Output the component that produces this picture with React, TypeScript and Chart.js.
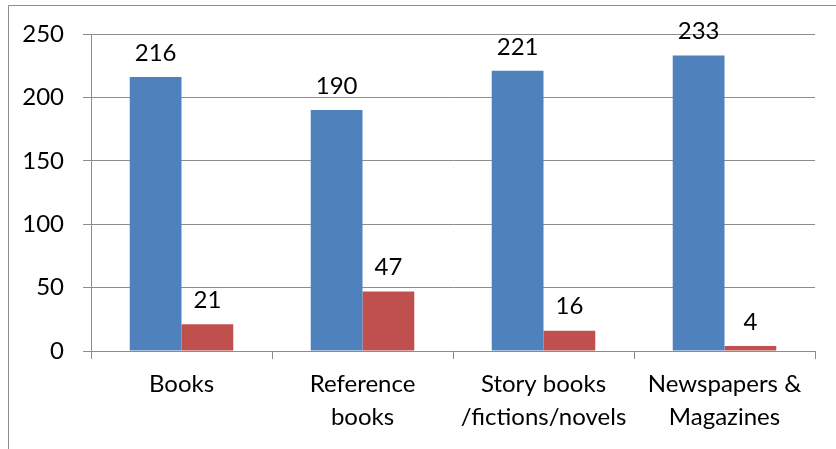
import React, { useEffect, useRef } from "react";
import { Chart, registerables } from "chart.js";

Chart.register(...registerables);

const categories: string[][] = [
  ["Books"],
  ["Reference", "books"],
  ["Story books", "/fictions/novels"],
  ["Newspapers &", "Magazines"],
];
const seriesA: number[] = [216, 190, 221, 233];
const seriesB: number[] = [21, 47, 16, 4];
const yTicks = { min: 0, max: 250, step: 50 };

const FONT = "Lato, 'Open Sans', sans-serif";
const FONT_SIZE = 24;

const borderPlugin = {
  id: "outerBorder",
  beforeDraw(chart: any) {
    const ctx = chart.ctx;
    ctx.save();
    ctx.strokeStyle = "#8c8c8c";
    ctx.lineWidth = 1;
    ctx.beginPath();
    ctx.moveTo(8.5, chart.height);
    ctx.lineTo(8.5, 5.5);
    ctx.lineTo(chart.width, 5.5);
    ctx.stroke();
    ctx.restore();
  },
};

const labelPlugin = {
  id: "valueLabels",
  afterDatasetsDraw(chart: any) {
    const ctx = chart.ctx;
    ctx.save();
    ctx.fillStyle = "#000";
    ctx.font = `${FONT_SIZE}px ${FONT}`;
    ctx.textAlign = "center";
    ctx.textBaseline = "middle";
    chart.data.datasets.forEach((ds: any, i: number) => {
      const meta = chart.getDatasetMeta(i);
      meta.data.forEach((bar: any, j: number) => {
        ctx.fillText(String(ds.data[j]), bar.x, bar.y - 24);
      });
    });
    ctx.restore();
  },
};

export default function App() {
  const ref = useRef<HTMLCanvasElement | null>(null);
  useEffect(() => {
    if (!ref.current) return;
    const chart = new Chart(ref.current, {
      type: "bar",
      data: {
        labels: categories,
        datasets: [
          {
            label: "A",
            data: seriesA,
            backgroundColor: "#4F81BD",
            borderWidth: 0,
            categoryPercentage: 0.572,
            barPercentage: 1,
          },
          {
            label: "B",
            data: seriesB,
            backgroundColor: "#C0504D",
            borderWidth: 0,
            categoryPercentage: 0.572,
            barPercentage: 1,
          },
        ],
      },
      options: {
        animation: false,
        responsive: false,
        maintainAspectRatio: false,
        layout: { padding: { left: 0, right: 21, top: 34, bottom: 0 } },
        plugins: { legend: { display: false }, tooltip: { enabled: false } },
        scales: {
          x: {
            grid: {
              display: true,
              drawOnChartArea: false,
              drawTicks: true,
              tickLength: 8,
              color: "#8c8c8c",
              offset: true,
            },
            border: { display: true, color: "#8c8c8c", width: 1 },
            ticks: {
              color: "#000",
              font: { family: FONT, size: FONT_SIZE, lineHeight: 1.38 },
              padding: 9,
              maxRotation: 0,
              autoSkip: false,
            },
            afterFit(scale: any) {
              scale.height = 98;
            },
          },
          y: {
            min: yTicks.min,
            max: yTicks.max,
            grid: {
              display: true,
              drawOnChartArea: true,
              drawTicks: true,
              tickLength: 8,
              color: "#8c8c8c",
            },
            border: { display: true, color: "#8c8c8c", width: 1 },
            ticks: {
              stepSize: yTicks.step,
              color: "#000",
              font: { family: FONT, size: FONT_SIZE },
              padding: 19,
            },
            afterFit(scale: any) {
              scale.width = 91;
            },
          },
        },
      },
      plugins: [borderPlugin, labelPlugin],
    });
    return () => chart.destroy();
  }, []);
  return (
    <div style={{ position: "absolute", left: 0, top: 0, width: 836, height: 449, background: "#fff" }}>
      <canvas ref={ref} width={836} height={449} style={{ display: "block" }} />
    </div>
  );
}
